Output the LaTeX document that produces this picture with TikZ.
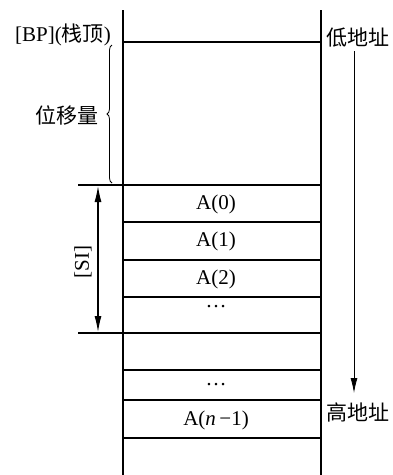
\documentclass[tikz,border=0pt]{standalone}
\usepackage{fontspec}
\setmainfont{Liberation Serif}
\newfontfamily\cjk{Noto Sans CJK SC}
\usetikzlibrary{arrows.meta,decorations.pathreplacing}
\begin{document}
\begin{tikzpicture}[x=1pt,y=-1pt,
  lbl/.style={inner sep=0pt,font=\fontsize{21}{25}\selectfont},
  frame/.style={line width=1.6pt},
  cellline/.style={line width=1.2pt},
  thinarrow/.style={line width=0.8pt,-{Latex[length=15pt,width=7pt]}},
  siarrow/.style={line width=1.2pt,{Latex[length=16pt,width=7pt]}-{Latex[length=16pt,width=7pt]}}
]
\useasboundingbox (0,0) rectangle (392,475);
% frame
\draw[frame] (123,10) -- (123,475);
\draw[frame] (321,10) -- (321,475);
% cell lines
\draw[cellline] (123,42) -- (321,42);
\draw[cellline] (78,185) -- (321,185);
\draw[cellline] (123,222) -- (321,222);
\draw[cellline] (123,260) -- (321,260);
\draw[cellline] (123,297) -- (321,297);
\draw[cellline] (78,333) -- (321,333);
\draw[cellline] (123,370) -- (321,370);
\draw[cellline] (123,400) -- (321,400);
\draw[cellline] (123,438) -- (321,438);
% cell texts
\node[lbl] (a0) at (216,204) {A(0)};
\node[lbl] (a1) at (216,241) {A(1)};
\node[lbl] (a2) at (216,279) {A(2)};
\node[lbl,anchor=base] (d1) at (216,307) {…};
\node[lbl,anchor=base] (d2) at (216,385) {…};
\node[lbl] (an) at (216,420) {A(\textit{n}\,−1)};
% left labels
\node[lbl,anchor=base east] (bp) at (111,41) {[BP]({\cjk 栈顶})};
\node[lbl,anchor=east] (wy) at (99,115) {\cjk 位移量};
\coordinate (b1) at (112,183);
\coordinate (b2) at (112,45);
\draw[line width=0.8pt,decorate,decoration={brace,amplitude=5pt}] (b1) -- (b2);
% SI arrow
\coordinate (si1) at (98,186);
\coordinate (si2) at (98,332);
\draw[siarrow] (si1) -- (si2);
\node[lbl,rotate=90] (si) at (83,262) {[SI]};
% right side
\node[lbl,anchor=west] (lo) at (326,38) {\cjk 低地址};
\node[lbl,anchor=west] (hi) at (326,412) {\cjk 高地址};
\coordinate (ra1) at (354,51);
\coordinate (ra2) at (354,393);
\draw[thinarrow] (ra1) -- (ra2);
\end{tikzpicture}
\end{document}
